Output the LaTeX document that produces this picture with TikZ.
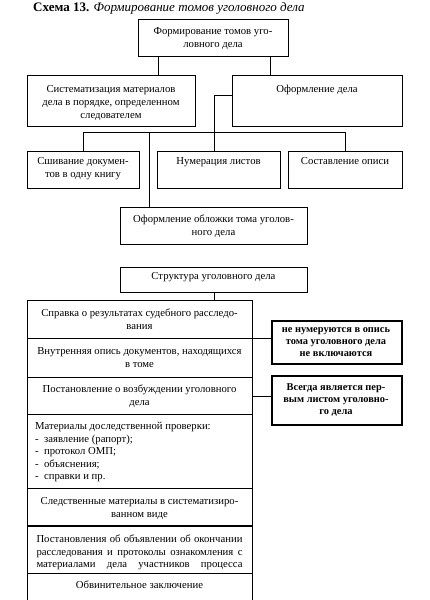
\documentclass[tikz,border=0pt]{standalone}
\usepackage{fontspec}
\setmainfont{Liberation Serif}
\begin{document}
\begin{tikzpicture}[x=1pt,y=-1pt,
  box/.style={draw, line width=0.8pt, rectangle, inner sep=0pt, anchor=north west},
  bbox/.style={box, line width=2pt},
  txt/.style={anchor=north, inner sep=0pt, align=center, font=\fontsize{10.7}{13}\selectfont},
  btxt/.style={txt, font=\bfseries\fontsize{10.4}{12}\selectfont},
  conn/.style={draw, line width=0.8pt}]
\fill[white] (0,0) rectangle (430,600);
\useasboundingbox (0,0) rectangle (430,600);
% title
\node[anchor=west, inner sep=0pt, font=\fontsize{13}{15}\selectfont] (title) at (33,8)
  {\textbf{Схема 13.} \textit{Формирование томов уголовного дела}};
% upper tree
\node[box, minimum width=150, minimum height=37] (top) at (138,19) {};
\node[txt] (topT) at (213,27) {Формирование томов уго-\\ловного дела};
\node[box, minimum width=168, minimum height=51] (sist) at (27,75) {};
\node[txt] (sistT) at (111,85) {Систематизация материалов\\дела в порядке, определенном\\следователем};
\node[box, minimum width=170, minimum height=51] (oform) at (232,75) {};
\node[txt] (oformT) at (317,85) {Оформление дела};
\node[box, minimum width=112, minimum height=37] (sshiv) at (27,151) {};
\node[txt] (sshivT) at (83,157) {Сшивание докумен-\\тов в одну книгу};
\node[box, minimum width=123, minimum height=37] (numer) at (157,151) {};
\node[txt] (numerT) at (218.5,157) {Нумерация листов};
\node[box, minimum width=114, minimum height=37] (sost) at (288,151) {};
\node[txt] (sostT) at (345,157) {Составление описи};
\node[box, minimum width=187, minimum height=37] (oblozh) at (120,207) {};
\node[txt] (oblozhT) at (213.5,215) {Оформление обложки тома уголов-\\ного дела};
% connectors upper tree
\coordinate (xa) at (158,0);
\coordinate (xb) at (270,0);
\coordinate (xc) at (214,95);
\coordinate (hl) at (83,132);
\coordinate (hr) at (345,132);
\coordinate (xo) at (149,132);
\draw[conn] (top.south -| xa) -- (sist.north -| xa);
\draw[conn] (top.south -| xb) -- (oform.north -| xb);
\draw[conn] (oform.west |- xc) -- (xc) -- (numer.north -| xc);
\draw[conn] (hl) -- (hr);
\draw[conn] (hl) -- (sshiv.north -| hl);
\draw[conn] (hr) -- (sost.north -| hr);
\draw[conn] (xo) -- (oblozh.north -| xo);
% structure
\node[box, minimum width=187, minimum height=25] (struct) at (120,267) {};
\node[txt] (structT) at (213.5,272) {Структура уголовного дела};
\node[box, minimum width=225, minimum height=38] (row1) at (27,300) {};
\node[txt] (row1T) at (139.5,309) {Справка о результатах судебного расследо-\\вания};
\node[box, minimum width=225, minimum height=39] (row2) at (27,338) {};
\node[txt] (row2T) at (139.5,347) {Внутренняя опись документов, находящихся\\в томе};
\node[box, minimum width=225, minimum height=37] (row3) at (27,377) {};
\node[txt] (row3T) at (139.5,385) {Постановление о возбуждении уголовного\\дела};
\node[box, minimum width=225, minimum height=74] (row4) at (27,414) {};
\node[txt, anchor=north west, align=left, font=\fontsize{10.7}{12.6}\selectfont] (row4T) at (35,422) {Материалы доследственной проверки:\\-\enspace заявление (рапорт);\\-\enspace протокол ОМП;\\-\enspace объяснения;\\-\enspace справки и пр.};
\node[box, minimum width=225, minimum height=38] (row5) at (27,488) {};
\node[txt] (row5T) at (139.5,497) {Следственные материалы в систематизиро-\\ванном виде};
\node[box, minimum width=225, minimum height=47] (row6) at (27,526) {};
\draw[line width=1.6pt] (row6.north west) -- (row6.north east);
\node[txt, align=left, font=\fontsize{10.7}{12.5}\selectfont] (row6T) at (139.5,535) {\makebox[206pt][s]{Постановления об объявлении об окончании}\\\makebox[206pt][s]{расследования и протоколы ознакомления с}\\\makebox[206pt][s]{материалами дела участников процесса}};
\node[box, minimum width=225, minimum height=40] (row7) at (27,573) {};
\node[txt] (row7T) at (139.5,581) {Обвинительное заключение};
\draw[conn] (struct.south) -- (row1.north -| struct.south);
% bold side boxes
\node[bbox, minimum width=130, minimum height=43] (nb1) at (271,320) {};
\node[btxt] (nb1T) at (336,327) {не нумеруются в опись\\тома уголовного дела\\не включаются};
\node[bbox, minimum width=130, minimum height=49] (nb2) at (271,375) {};
\node[btxt] (nb2T) at (336,383) {Всегда является пер-\\вым листом уголовно-\\го дела};
\draw[conn] (row1.south east) -- (row1.south east -| nb1.west);
\draw[conn] (row3.east) -- (row3.east -| nb2.west);
\end{tikzpicture}
\end{document}
